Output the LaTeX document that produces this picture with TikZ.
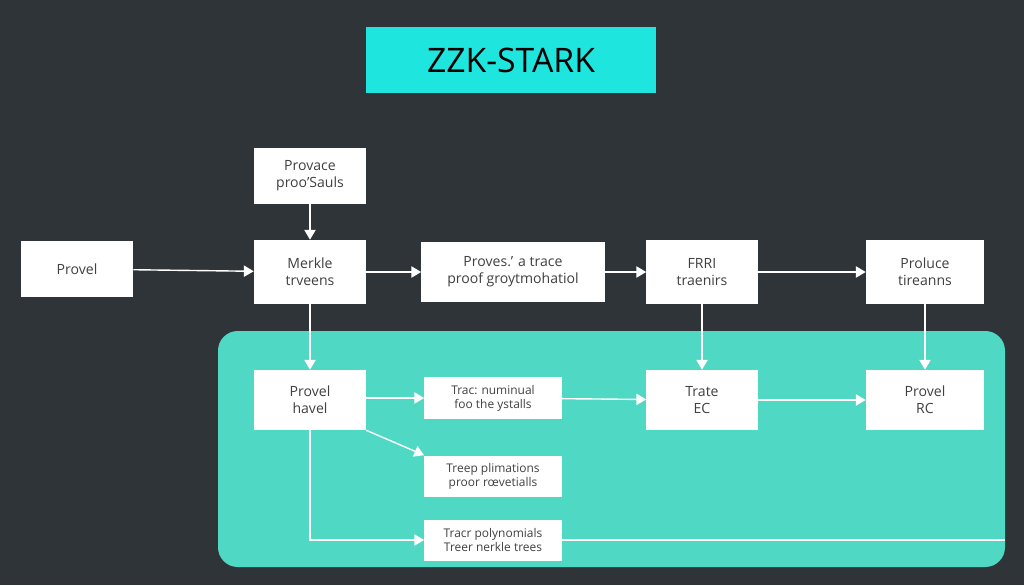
\documentclass[tikz,border=0pt]{standalone}
\usepackage{fontspec}
\setmainfont{Open Sans}
\usetikzlibrary{arrows.meta}
\definecolor{bgdark}{HTML}{2F3438}
\definecolor{titlecyan}{HTML}{1EE6DE}
\definecolor{panelteal}{HTML}{4FD8C4}
\tikzset{
  box/.style={draw=none, fill=white, align=center, font=\fontsize{10}{12}\selectfont, text=black!75, inner sep=0pt},
  flow/.style={draw=white, line width=1pt, -{Triangle[length=7pt,width=8pt]}},
}
\begin{document}
\begin{tikzpicture}[x=0.025cm, y=-0.025cm]
        \fill[bgdark] (0,0) rectangle (1024,585);
        \fill[panelteal, rounded corners=14pt] (218,331) rectangle (1005,567);
        \node (title) [fill=titlecyan, minimum width=290*0.025cm, minimum height=66*0.025cm, font=\fontsize{24}{28}\selectfont] at (511,60) {ZZK-STARK};

        \node (provace) [box, minimum width=2.8cm, minimum height=1.4cm] at (310,176) {Provace\\proo'Sauls};
        \node (provel) [box, minimum width=2.8cm, minimum height=1.375cm] at (77,269) {Provel};
        \node (merkle) [box, minimum width=2.8cm, minimum height=1.6cm] at (310,272) {Merkle\\trveens};
        \node (proves) [box, minimum width=4.575cm, minimum height=1.5cm] at (513,272) {Proves.' a trace\\proof groytmohatiol};
        \node (frri) [box, minimum width=2.775cm, minimum height=1.6cm] at (702,272) {FRRI\\traenirs};
        \node (produce) [box, minimum width=2.95cm, minimum height=1.6cm] at (925,272) {Proluce\\tireanns};
        \node (havel) [box, minimum width=2.8cm, minimum height=1.5cm] at (310,400) {Provel\\havel};
        \node (trac) [box, minimum width=3.425cm, minimum height=1.05cm, font=\fontsize{8.5}{10}\selectfont] at (493,398) {Trac: numinual\\foo the ystalls};
        \node (treep) [box, minimum width=3.425cm, minimum height=1.025cm, font=\fontsize{8.5}{10}\selectfont] at (493,476) {Treep plimations\\proor rœvetialls};
        \node (tracr) [box, minimum width=3.425cm, minimum height=1.025cm, font=\fontsize{8.5}{10}\selectfont] at (493,540) {Tracr polynomials\\Treer nerkle trees};
        \node (trate) [box, minimum width=2.775cm, minimum height=1.5cm] at (702,400) {Trate\\EC};
        \node (provelrc) [box, minimum width=2.95cm, minimum height=1.5cm] at (925,400) {Provel\\RC};
        \coordinate (panelend) at (1005,540);

        \draw[flow] (provel) -- (merkle);
        \draw[flow] (provace) -- (merkle);
        \draw[flow] (merkle) -- (proves);
        \draw[flow] (proves) -- (frri);
        \draw[flow] (frri) -- (produce);
        \draw[flow] (merkle) -- (havel);
        \draw[flow] (frri) -- (trate);
        \draw[flow] (produce) -- (provelrc);
        \draw[flow] (havel.east |- trac) -- (trac);
        \draw[flow] (trac) -- (trate);
        \draw[flow] (trate) -- (provelrc);
        \draw[flow] (havel.south east) -- (treep.north west);
        \draw[flow] (havel.south) |- (tracr);
        \draw[draw=white, line width=1pt] (tracr) -- (panelend);
\end{tikzpicture}
\end{document}
